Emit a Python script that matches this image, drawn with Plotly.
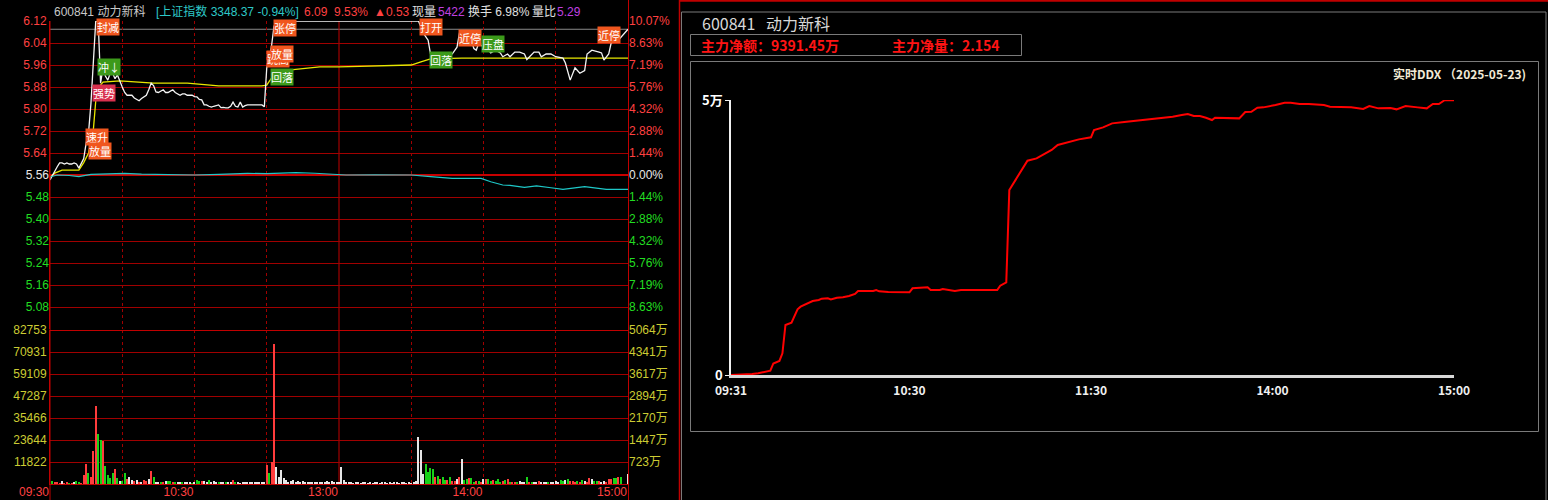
import plotly.graph_objects as go

W, H = 1548, 500
def px(x): return x / W
def py(y): return 1 - y / H

# ---------------- data (left: intraday) ----------------
prev_close = 5.56
last_price = 6.09
idx_prev_close = 3380.14
price_lo, price_hi = 5.00, 6.12

price_min = [0,1,2,3,4,5,6,7,8,9,10,11,12,13,14,15,16,17,18,19,20,21,22,23,24,25,26,27,28,29,
             30,31,32,33,34,35,36,37,38,39,40,41,42,43,44,45,46,47,48,49,50,51,52,53,54,55,56,57,58,59,
             60,61,62,63,64,65,66,67,68,69,70,71,72,73,74,75,76,77,78,79,80,81,82,84,86,88,89,90,91,92,93,94,
             152,153,155,157,158,159,163,167,169,170,174,176,177,178,180,182,183,185,187,188,190,191,193,195,
             197,198,201,203,204,206,208,210,213,214,216,218,220,222,223,225,228,229,230,232,233,235,236,240]
price_val = [5.542,5.56,5.575,5.59,5.604,5.604,5.60,5.604,5.60,5.60,5.604,5.60,5.585,5.60,5.62,5.676,5.713,5.82,5.95,6.12,
             6.12,5.894,5.95,5.92,5.905,5.93,5.93,5.91,5.924,5.90,5.88,5.86,5.85,5.85,5.85,5.84,5.835,5.83,5.838,5.844,
             5.85,5.87,5.894,5.885,5.862,5.86,5.865,5.87,5.86,5.86,5.865,5.87,5.86,5.855,5.85,5.855,5.855,5.85,5.85,5.85,
             5.845,5.844,5.835,5.833,5.815,5.815,5.81,5.807,5.81,5.812,5.815,5.805,5.806,5.804,5.804,5.81,5.825,5.81,5.807,5.825,
             5.807,5.812,5.815,5.815,5.815,5.815,5.808,5.95,5.98,6.03,6.10,6.12,
             6.12,6.12,6.076,6.05,6.0,5.99,5.99,6.0,6.025,6.076,6.076,6.02,6.014,6.04,6.025,6.014,6.004,6.014,6.004,5.99,
             6.0,5.99,6.007,6.007,6.0,5.98,6.007,6.007,5.99,6.0,6.0,5.99,5.985,5.967,5.905,5.95,5.93,5.94,6.0,6.014,
             6.007,6.004,5.978,6.0,6.04,6.045,6.05,6.09]

avg_min = [0,2,5,12,14,16,18,19,21,22,29,43,57,70,88,90,92,95,100,109,112,120,150,154,158,171,240]
avg_val = [5.55,5.567,5.578,5.578,5.605,5.64,5.724,5.83,5.887,5.898,5.902,5.894,5.894,5.884,5.884,5.887,
           5.913,5.938,5.942,5.949,5.953,5.953,5.96,5.971,5.982,5.985,5.985]

idx_min = [0,3,8,12,17,25,31,38,46,53,60,70,82,90,102,110,118,123,135,150,158,167,179,183,188,191,197,202,208,213,222,231,240]
idx_val = [3375.7,3380.1,3379.0,3376.4,3381.5,3382.6,3383.9,3382.0,3381.0,3381.5,3380.1,3381.5,3383.9,3383.0,
           3385.2,3384.0,3382.6,3380.1,3380.6,3380.1,3376.4,3372.8,3372.8,3365.3,3358.0,3357.3,3352.9,3356.0,
           3352.0,3348.5,3354.3,3348.5,3348.4]

vol = [0,1610,720,1080,540,1610,360,900,360,540,
       720,1610,1260,540,4830,10740,5730,3940,17720,41890,
       26850,23630,23270,9670,4830,3040,5730,8060,3400,1610,
       1610,5730,2510,3940,2150,1440,2150,1260,1260,2150,
       1610,2510,6980,3580,1260,900,900,720,1440,1440,
       1790,900,720,1080,900,720,1080,900,1260,540,
       720,2150,1440,1610,1440,900,2150,900,1440,900,
       1080,720,1080,720,1080,900,2150,1260,900,540,
       720,900,1080,720,900,1080,900,720,1260,900,
       10200,6090,11640,75180,9310,3940,7520,3400,2150,1260,
       1610,2150,1260,1610,1080,1440,900,1260,1080,900,
       1080,720,1080,1260,900,1790,900,1440,720,1080,
       720,9310,2150,900,720,720,540,720,720,540,
       720,720,540,720,540,720,720,540,720,720,
       540,720,540,720,720,540,720,900,540,720,
       540,900,1440,25420,18260,5370,10740,6620,8410,7880,
       3940,4300,2510,3580,2150,2150,3940,1610,1790,2690,
       3580,13600,2150,2510,3040,3400,1260,1610,1610,900,
       2510,2690,2860,1440,2150,1440,2860,1260,1440,2150,
       2510,1260,900,900,900,1610,1080,720,3580,1260,
       1260,1260,900,1440,900,1080,900,1080,900,1260,
       1790,900,2330,1790,2330,2690,1790,1610,1260,1610,
       1260,1970,1610,900,3220,2510,1610,1790,1610,900,
       1610,1080,2510,2860,3040,3400,3940,3940,0,0,
       5370]
vol_dir = ("wgrrrwrrgr" "wggrrrgrrr" "ggrggggrgw" "ggrwwrwrwr" "rwrgwwgrwg"
           "grgwwgwwwg" "wggrwwgwww" "gwwgwwrgww" "wwwwwwwwww" "rgrrwwwwww"
           "wwwwwwwwww" "wwwwwwwwww" "wwwwwwwwww" "wwwwwwwwww" "wwwwwwwwww"
           "wwwwwwgggg" "rgrggrgrrw" "rwggrggrgr" "wrggrgggrg" "rgrrgwwwgr"
           "gwwrwwwgww" "wwggwgrrrg" "rgwrrwggrw" "wrrrggrgww" "w")
vol_minutes = list(range(len(vol)))

price_ticks_up = [5.64, 5.72, 5.80, 5.88, 5.96, 6.04, 6.12]
price_ticks_dn = [5.08, 5.16, 5.24, 5.32, 5.40, 5.48]
pct_labels_up = ["1.44%", "2.88%", "4.32%", "5.76%", "7.19%", "8.63%", "10.07%"]
pct_labels_dn = ["8.63%", "7.19%", "5.76%", "4.32%", "2.88%", "1.44%"]
vol_ticks = [11822, 23644, 35466, 47287, 59109, 70931, 82753]
amt_labels = ["723万", "1447万", "2170万", "2894万", "3617万", "4341万", "5064万"]
time_ticks = [0, 60, 120, 180, 240]
time_labels = ["09:30", "10:30", "13:00", "14:00", "15:00"]
half_hours = [30, 60, 90, 150, 180, 210]

label_text = ["封减", "冲↓", "强势", "速升", "放量", "张停", "跳高", "放量", "回落", "打开", "回落", "近停", "压盘", "近停"]
label_min = [23.9, 24.7, 22.3, 19.4, 20.6, 97.7, 94.5, 96.2, 96.4, 158.2, 162.2, 174.3, 184.1, 232.3]
label_price = [6.098, 5.951, 5.858, 5.700, 5.647, 6.096, 5.982, 6.000, 5.916, 6.100, 5.978, 6.060, 6.038, 6.069]
label_kind = ["o", "g", "p", "o", "o", "o", "o", "o", "g", "o", "g", "o", "g", "o"]

# ---------------- data (right: DDX) ----------------
ddx_min = [1,5,8,10,12,14,15,17,18,19,21,22,23,24,26,28,30,31,33,34,36,38,40,42,43,46,48,49,50,53,
           56,60,61,64,66,67,70,71,74,75,77,83,89,90,92,93,95,97,99,102,104,107,109,113,116,120,121,124,127,131,
           136,142,147,150,152,154,156,158,160,161,165,169,171,173,175,177,181,184,186,189,
           192,197,199,203,206,210,212,215,219,221,224,228,231,233,235,237,238,240]
ddx_val = [0,60,180,300,550,790,2100,2550,3940,9090,9510,10600,11940,12420,13000,13450,13640,13880,13940,13750,
           14060,14120,14360,14730,15270,15210,15270,15450,15210,15090,15030,15030,15760,15880,15940,15450,15450,15640,15450,15270,
           15450,15450,15450,16240,16850,33630,35450,37390,38970,39390,40000,40910,41820,42420,42840,43210,44540,45030,45750,45990,
           46300,46540,46970,47270,47450,47090,47090,46780,46360,46780,46660,46660,47810,47870,48600,48660,49090,49510,49510,49270,
           49270,49090,48780,48780,48660,48360,48900,48480,48540,48300,48900,48660,48480,49270,49270,50000,50000,49950]
ddx_ticks = [0, 50000]
ddx_tick_labels = ["0", "5万"]
ddx_time_ticks = [1, 60, 120, 180, 240]
ddx_time_labels = ["09:31", "10:30", "11:30", "14:00", "15:00"]

# ---------------- styles ----------------
RED_T = "#ff4040"
GRN_T = "#22dd22"
WHT_T = "#e8e8e8"
YEL_T = "#cccc33"
GRID = "#a00000"
FONT = "Liberation Sans, Arial, Noto Sans CJK SC"
CJK = "Noto Sans CJK SC"
bar_colors = {"r": "#ff3c3c", "g": "#19d219", "w": "#e6e6e6"}
box_colors = {"o": "#f0561e", "g": "#3c9a1a", "p": "#d8304e"}

fig = go.Figure()

fig.add_trace(go.Scatter(x=idx_min, y=idx_val, mode="lines", line=dict(color="#1ec8c8", width=1.2),
                         xaxis="x", yaxis="y7", hoverinfo="skip"))
fig.add_trace(go.Scatter(x=avg_min, y=avg_val, mode="lines", line=dict(color="#e8e800", width=1.3),
                         xaxis="x", yaxis="y", hoverinfo="skip"))
fig.add_trace(go.Scatter(x=price_min, y=price_val, mode="lines", line=dict(color="#f4f4f4", width=1.3),
                         xaxis="x", yaxis="y", hoverinfo="skip"))
fig.add_trace(go.Bar(x=vol_minutes, y=vol, width=0.45, marker=dict(color=[bar_colors[c] for c in vol_dir], line=dict(width=0)),
                     xaxis="x2", yaxis="y8", hoverinfo="skip"))
fig.add_trace(go.Scatter(x=ddx_min, y=ddx_val, mode="lines", line=dict(color="#ff0000", width=2),
                         xaxis="x4", yaxis="y10", hoverinfo="skip"))
# invisible anchors so that the label-only overlay axes are drawn
for ya, xa, yv in [("y2", "x", prev_close), ("y3", "x", prev_close), ("y4", "x", prev_close),
                   ("y5", "x", prev_close), ("y6", "x", prev_close), ("y9", "x2", 0)]:
    fig.add_trace(go.Scatter(x=[0], y=[yv], mode="markers", marker=dict(opacity=0, size=1),
                             xaxis=xa, yaxis=ya, hoverinfo="skip"))

left_dom = [px(50), px(628)]
price_dom = [py(329), py(21)]
vol_dom = [py(484), py(330)]

common_y = dict(zeroline=False, fixedrange=True, ticks="", showline=False, automargin=False)

layout = dict(
    width=W, height=H, autosize=False,
    margin=dict(l=0, r=0, t=0, b=0, pad=0),
    paper_bgcolor="#000000", plot_bgcolor="#000000",
    showlegend=False, bargap=0,
    xaxis=dict(domain=left_dom, range=[0, 240], anchor="y", showticklabels=False, zeroline=False, automargin=False,
               tickvals=half_hours, showgrid=True, gridcolor=GRID, griddash="dot", gridwidth=1, ticks=""),
    xaxis2=dict(domain=left_dom, range=[0, 240], anchor="y8", tickvals=time_ticks, ticktext=time_labels,
                tickfont=dict(color=RED_T, size=12, family=FONT), ticklabelshift=-16, ticklabelstandoff=-3,
                showgrid=False, zeroline=False, showline=True, linecolor="#c00000", linewidth=1, ticks="",
                automargin=False,
                minor=dict(tickvals=half_hours, showgrid=True, gridcolor=GRID, griddash="dot", gridwidth=1)),
    yaxis=dict(domain=price_dom, range=[price_lo, price_hi], anchor="x", tickvals=price_ticks_up,
               ticktext=[f"{v:.2f}" for v in price_ticks_up], tickfont=dict(color=RED_T, size=12, family=FONT),
               showgrid=True, gridcolor=GRID, gridwidth=1, **{**common_y, "showline": True},
               linecolor="#c00000", mirror=True),
    yaxis2=dict(overlaying="y", range=[price_lo, price_hi], anchor="x", tickvals=price_ticks_dn,
                ticktext=[f"{v:.2f}" for v in price_ticks_dn], tickfont=dict(color=GRN_T, size=12, family=FONT),
                showgrid=True, gridcolor=GRID, gridwidth=1, **common_y),
    yaxis3=dict(overlaying="y", range=[price_lo, price_hi], anchor="x", tickvals=[prev_close],
                ticktext=[f"{prev_close:.2f}"], tickfont=dict(color=WHT_T, size=12, family=FONT),
                showgrid=False, **common_y),
    yaxis4=dict(overlaying="y", range=[price_lo, price_hi], anchor="x", side="right", tickvals=price_ticks_up,
                ticktext=pct_labels_up, tickfont=dict(color=RED_T, size=12, family=FONT), showgrid=False, **common_y),
    yaxis5=dict(overlaying="y", range=[price_lo, price_hi], anchor="x", side="right", tickvals=price_ticks_dn,
                ticktext=pct_labels_dn, tickfont=dict(color=GRN_T, size=12, family=FONT), showgrid=False, **common_y),
    yaxis6=dict(overlaying="y", range=[price_lo, price_hi], anchor="x", side="right", tickvals=[prev_close],
                ticktext=["0.00%"], tickfont=dict(color=WHT_T, size=12, family=FONT), showgrid=False, **common_y),
    yaxis7=dict(overlaying="y", range=[idx_prev_close * price_lo / prev_close, idx_prev_close * price_hi / prev_close],
                anchor="x", visible=False, fixedrange=True, automargin=False),
    yaxis8=dict(domain=vol_dom, range=[0, vol_ticks[-1]], anchor="x2", tickvals=vol_ticks,
                ticktext=[str(v) for v in vol_ticks], tickfont=dict(color=YEL_T, size=12, family=FONT),
                showgrid=True, gridcolor=GRID, gridwidth=1, **{**common_y, "showline": True},
                linecolor="#c00000", mirror=True),
    yaxis9=dict(overlaying="y8", range=[0, vol_ticks[-1]], anchor="x2", side="right", tickvals=vol_ticks,
                ticktext=amt_labels, tickfont=dict(color=YEL_T, size=12, family=FONT), showgrid=False, **common_y),
    # right panel
    xaxis4=dict(domain=[px(731), px(1454)], range=[1, 240], anchor="y10", tickvals=ddx_time_ticks,
                ticktext=ddx_time_labels, tickfont=dict(color="#f0f0f0", size=12, family=CJK, weight="bold"),
                ticklabelstandoff=3,
                showgrid=False, zeroline=False, showline=True, linecolor="#d8d8d8", linewidth=3, ticks="",
                automargin=False),
    yaxis10=dict(domain=[py(375), py(100)], range=[0, 50000], anchor="x4", tickvals=ddx_ticks,
                 ticktext=ddx_tick_labels, tickfont=dict(color="#ffffff", size=13, family=CJK, weight="bold"),
                 showgrid=True, gridcolor="#e0e0e0", griddash="dot", gridwidth=1, zeroline=False,
                 showline=True, linecolor="#f0f0f0", linewidth=1.5, ticks="outside", ticklen=4,
                 tickcolor="#f0f0f0", fixedrange=True, automargin=False),
)
fig.update_layout(**layout)

shapes = [
    dict(type="line", xref="paper", yref="y", x0=px(50), x1=px(628), y0=prev_close, y1=prev_close,
         line=dict(color="#c80000", width=2), layer="between"),
    dict(type="line", xref="paper", yref="y", x0=px(50), x1=px(628), y0=last_price, y1=last_price,
         line=dict(color="#8a8a8a", width=1), layer="between"),
    dict(type="line", xref="x", yref="paper", x0=120, x1=120, y0=py(484), y1=py(21),
         line=dict(color="#c00000", width=1), layer="between"),
    dict(type="line", xref="paper", yref="y8", x0=px(50), x1=px(628), y0=vol_ticks[-1], y1=vol_ticks[-1],
         line=dict(color="#c00000", width=2)),
    dict(type="line", xref="paper", yref="paper", x0=px(628.5), x1=px(628.5), y0=0, y1=1,
         line=dict(color="#c00000", width=1)),
    dict(type="line", xref="paper", yref="paper", x0=px(50), x1=px(50), y0=0, y1=py(21),
         line=dict(color="#c00000", width=1)),
    dict(type="line", xref="paper", yref="paper", x0=px(679.5), x1=px(679.5), y0=0, y1=1,
         line=dict(color="#c00000", width=1.5)),
    dict(type="line", xref="paper", yref="paper", x0=px(680), x1=1, y0=py(0.8), y1=py(0.8),
         line=dict(color="#c00000", width=2)),
    dict(type="rect", xref="paper", yref="paper", x0=px(681.5), x1=px(1546), y0=py(505), y1=py(12),
         line=dict(color="#7a7a7a", width=1)),
    dict(type="rect", xref="paper", yref="paper", x0=px(690.5), x1=px(1021.5), y0=py(55.5), y1=py(34.5),
         line=dict(color="#7a7a7a", width=1)),
    dict(type="rect", xref="paper", yref="paper", x0=px(690.5), x1=px(1538.5), y0=py(431.5), y1=py(61.5),
         line=dict(color="#7a7a7a", width=1)),
]
fig.update_layout(shapes=shapes)

ann = []
header = [
    (52, "600841 动力新科", "#c8c8c8"),
    (154, "[上证指数 3348.37 -0.94%]", "#2ec8c8"),
    (302, "6.09", RED_T),
    (332, "9.53%", RED_T),
    (372, "▲0.53", RED_T),
    (410, "现量", "#e0e0e0"),
    (436, "5422", "#c040e0"),
    (466, "换手 6.98%", "#e0e0e0"),
    (530, "量比", "#e0e0e0"),
    (555, "5.29", "#c040e0"),
]
for x, t, c in header:
    ann.append(dict(xref="paper", yref="paper", x=px(x), y=py(11.5), xanchor="left", yanchor="middle",
                    text=t, showarrow=False, font=dict(color=c, size=12, family=FONT)))

for t, m, p, k in zip(label_text, label_min, label_price, label_kind):
    ann.append(dict(xref="x", yref="y", x=m, y=p, xanchor="center", yanchor="middle", text=t,
                    showarrow=False, bgcolor=box_colors[k], borderpad=0,
                    font=dict(color="#ffffff", size=11, family=CJK)))

ann += [
    dict(xref="paper", yref="paper", x=px(700), y=py(22.5), xanchor="left", yanchor="middle",
         text="600841&nbsp;&nbsp;&nbsp;动力新科", showarrow=False, font=dict(color="#d8d8d8", size=16, family=CJK)),
    dict(xref="paper", yref="paper", x=px(699), y=py(45), xanchor="left", yanchor="middle",
         text="主力净额：9391.45万", showarrow=False, font=dict(color="#ff1414", size=14, family=CJK, weight="bold")),
    dict(xref="paper", yref="paper", x=px(890), y=py(45), xanchor="left", yanchor="middle",
         text="主力净量：2.154", showarrow=False, font=dict(color="#ff1414", size=14, family=CJK, weight="bold")),
    dict(xref="paper", yref="paper", x=px(1528), y=py(73), xanchor="right", yanchor="middle",
         text="实时DDX （2025-05-23)", showarrow=False, font=dict(color="#f2ead6", size=12, family=CJK, weight="bold")),
]
fig.update_layout(annotations=ann)

fig.write_html("out.html", config={"displayModeBar": False},
               post_script="document.body.style.margin='0';document.body.style.background='#000';")
